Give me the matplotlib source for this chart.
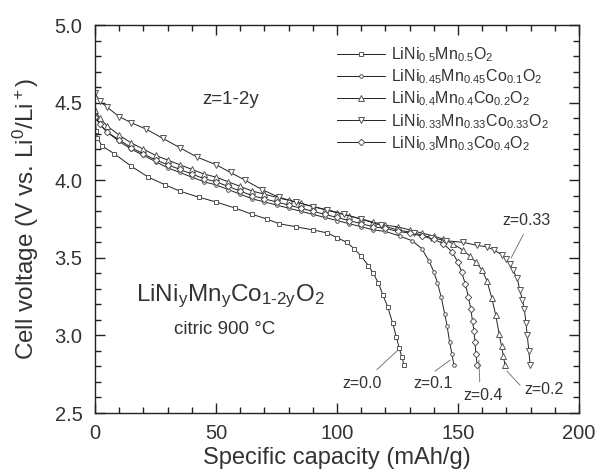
import numpy as np
import matplotlib
matplotlib.use("Agg")
import matplotlib.pyplot as plt
from matplotlib.ticker import MultipleLocator, FormatStrFormatter

plt.rcParams['font.family'] = ['Liberation Sans', 'DejaVu Sans']
plt.rcParams['mathtext.fontset'] = 'custom'
plt.rcParams['mathtext.rm'] = 'Liberation Sans'
plt.rcParams['mathtext.it'] = 'Liberation Sans'
plt.rcParams['mathtext.default'] = 'regular'

# ---- data (capacity mAh/g, voltage V) ----
cap_z00 = [0, 0.5, 1, 3, 8, 15, 22, 29, 35, 43, 50, 58, 65, 71, 76, 83, 90, 96, 100,
           104, 107, 110, 113, 115, 117, 119, 121, 123, 124.5, 125.7, 126.8, 127.7]
v_z00 = [4.40, 4.32, 4.27, 4.22, 4.17, 4.09, 4.02, 3.97, 3.93, 3.89, 3.86, 3.82, 3.78,
         3.75, 3.72, 3.70, 3.68, 3.66, 3.63, 3.60, 3.56, 3.51, 3.45, 3.40, 3.34, 3.26,
         3.18, 3.08, 2.99, 2.92, 2.86, 2.81]

cap_z01 = [0, 2, 5, 10, 15, 20, 25, 30, 35, 40, 45, 50, 55, 60, 65, 70, 75, 80, 85, 90,
           95, 100, 105, 110, 115, 120, 126, 131, 135, 138, 140, 141.5, 143, 144.5,
           145.5, 146.5, 147.5, 148.3]
v_z01 = [4.42, 4.36, 4.31, 4.25, 4.20, 4.16, 4.12, 4.08, 4.05, 4.02, 3.99, 3.97, 3.94,
         3.91, 3.88, 3.86, 3.84, 3.82, 3.80, 3.78, 3.76, 3.74, 3.72, 3.70, 3.68, 3.67,
         3.64, 3.61, 3.56, 3.48, 3.41, 3.34, 3.25, 3.14, 3.06, 2.96, 2.88, 2.81]

cap_z02 = [0, 2, 5, 10, 15, 20, 25, 30, 35, 40, 45, 50, 55, 60, 65, 70, 75, 80, 85, 90,
           95, 100, 105, 110, 115, 120, 125, 130, 135, 140, 144, 148, 152, 155, 157.5,
           160, 162, 164, 165.6, 167, 168, 168.7, 169.4]
v_z02 = [4.45, 4.40, 4.35, 4.29, 4.24, 4.20, 4.16, 4.13, 4.10, 4.07, 4.04, 4.02, 3.99,
         3.96, 3.93, 3.91, 3.89, 3.87, 3.85, 3.83, 3.81, 3.79, 3.77, 3.75, 3.73, 3.71,
         3.70, 3.68, 3.66, 3.64, 3.62, 3.59, 3.55, 3.51, 3.47, 3.42, 3.35, 3.24, 3.13,
         3.01, 2.93, 2.87, 2.81]

cap_z033 = [0, 2, 5, 10, 15, 21, 28, 35, 42, 50, 56, 62, 69, 76, 83, 90, 96, 103, 110,
            118, 125, 132, 139, 145, 152, 158, 162, 165, 168, 170, 171.5, 172.7, 174.4,
            175.6, 176.6, 177.4, 178.1, 178.6, 179.3, 179.8]
v_z033 = [4.56, 4.51, 4.47, 4.41, 4.37, 4.33, 4.27, 4.21, 4.15, 4.10, 4.05, 4.00, 3.94,
          3.89, 3.86, 3.83, 3.81, 3.78, 3.75, 3.71, 3.68, 3.66, 3.63, 3.61, 3.60, 3.58,
          3.57, 3.55, 3.52, 3.49, 3.46, 3.42, 3.37, 3.29, 3.23, 3.17, 3.08, 3.00, 2.90,
          2.81]

cap_z04 = [0, 2, 5, 10, 15, 20, 25, 30, 35, 40, 45, 50, 55, 60, 65, 70, 75, 80, 85, 90,
           95, 100, 105, 110, 115, 120, 125, 130, 135, 140, 144, 147.5, 150, 151.5, 153,
           154.3, 155.3, 156, 156.6, 157, 157.4, 157.9]
v_z04 = [4.41, 4.36, 4.31, 4.26, 4.21, 4.17, 4.13, 4.10, 4.07, 4.04, 4.01, 3.99, 3.96,
         3.93, 3.90, 3.88, 3.86, 3.84, 3.82, 3.80, 3.78, 3.76, 3.74, 3.72, 3.70, 3.69,
         3.67, 3.66, 3.64, 3.62, 3.59, 3.54, 3.47, 3.41, 3.33, 3.25, 3.17, 3.09, 3.03,
         2.96, 2.88, 2.81]

labels = [r'LiNi$_{0.5}$Mn$_{0.5}$O$_2$',
          r'LiNi$_{0.45}$Mn$_{0.45}$Co$_{0.1}$O$_2$',
          r'LiNi$_{0.4}$Mn$_{0.4}$Co$_{0.2}$O$_2$',
          r'LiNi$_{0.33}$Mn$_{0.33}$Co$_{0.33}$O$_2$',
          r'LiNi$_{0.3}$Mn$_{0.3}$Co$_{0.4}$O$_2$']

# curve labels: text, text position, leader line start/end
z_labels = ['z=0.0', 'z=0.1', 'z=0.4', 'z=0.2', 'z=0.33']
z_text_xy = [(110.5, 2.69), (139.5, 2.69), (160.5, 2.61), (185.5, 2.65), (178.5, 3.74)]
z_line_from = [(116.5, 2.78), (140.5, 2.77), (159.0, 2.70), (175.6, 2.68), (177.0, 3.65)]
z_line_to = [(124.8, 2.90), (146.7, 2.84), (158.6, 2.84), (170.2, 2.77), (172.0, 3.50)]

series = [(cap_z00, v_z00, 's', 3.2), (cap_z01, v_z01, 'o', 2.6),
          (cap_z02, v_z02, '^', 4.5), (cap_z033, v_z033, 'v', 4.5),
          (cap_z04, v_z04, 'D', 3.3)]

txt = '#333333'
fig = plt.figure(figsize=(5.95, 4.71), dpi=100)
ax = fig.add_axes([0.1597, 0.1231, 0.8134, 0.8238])

for (x, y, m, ms), lab in zip(series, labels):
    ax.plot(x, y, '-', color='#222222', lw=0.7, marker=m, ms=ms, mfc='white',
            mec='#555555', mew=0.7, label=lab)

for t, xy, p0, p1 in zip(z_labels, z_text_xy, z_line_from, z_line_to):
    ax.plot([p0[0], p1[0]], [p0[1], p1[1]], color='#666666', lw=0.6)
    ax.text(xy[0], xy[1], t, ha='center', va='center', fontsize=11.5, color=txt)

ax.text(56, 4.52, 'z=1-2y', ha='center', va='center', fontsize=13.5, color=txt)
ax.text(56, 3.25, r'LiNi$_y$Mn$_y$Co$_{1\text{-}2y}$O$_2$', ha='center', va='center',
        fontsize=17.5, color=txt)
ax.text(53.5, 3.04, 'citric 900 °C', ha='center', va='center', fontsize=13.5, color=txt)

ax.set_xlim(0, 200)
ax.set_ylim(2.5, 5.0)
ax.xaxis.set_major_locator(MultipleLocator(50))
ax.xaxis.set_minor_locator(MultipleLocator(10))
ax.yaxis.set_major_locator(MultipleLocator(0.5))
ax.yaxis.set_minor_locator(MultipleLocator(0.1))
ax.yaxis.set_major_formatter(FormatStrFormatter('%.1f'))
ax.tick_params(which='both', direction='in', top=True, right=True, colors='#222222',
               labelcolor=txt, labelsize=14.5, width=1.0)
ax.tick_params(which='major', length=7, pad=8)
ax.tick_params(which='minor', length=4)
ax.tick_params(axis='y', which='major', pad=9)
for s in ax.spines.values():
    s.set_color('#222222')
    s.set_linewidth(1.0)

ax.set_xlabel('Specific capacity (mAh/g)', fontsize=17, color=txt, labelpad=3)
ax.set_ylabel(r'Cell voltage (V vs. Li$^0$/Li$^+$)', fontsize=17.5, color=txt,
              labelpad=10)

leg = ax.legend(loc='upper left', bbox_to_anchor=(0.47, 0.985), frameon=False,
                fontsize=11.5, handlelength=3.0, labelspacing=0.22, handletextpad=0.4,
                labelcolor=txt)

fig.savefig('out.png', dpi=100, facecolor='white')
